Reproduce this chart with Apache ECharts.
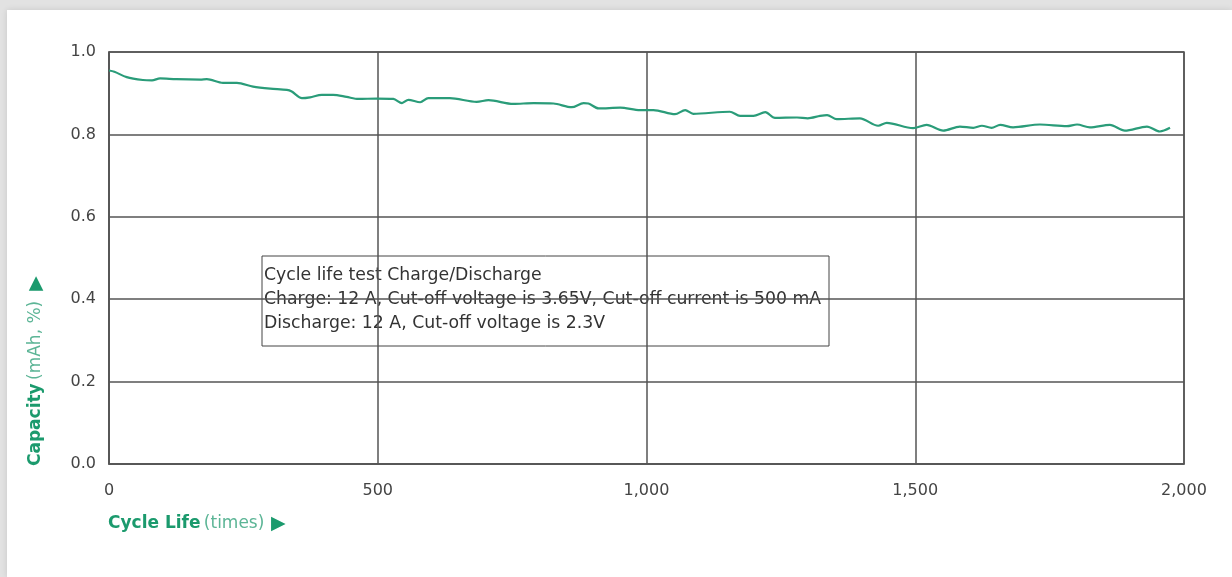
<!DOCTYPE html>
<html>
<head>
<meta charset="utf-8">
<title>Cycle life</title>
<script src="https://cdn.jsdelivr.net/npm/echarts@6.0.0/dist/echarts.min.js"></script>
<style>
  html, body { margin: 0; padding: 0; }
  body { width: 1232px; height: 577px; background: #e2e2e2; position: relative; overflow: hidden; }
  #card { position: absolute; left: 7px; top: 10px; right: 0; bottom: 0; background: #fff; box-shadow: 0 0 6px rgba(0,0,0,0.12); }
  #chart { position: absolute; left: 0; top: 0; width: 1232px; height: 577px; }
</style>
</head>
<body>
<div id="card"></div>
<div id="chart"></div>
<script>
// cycle count (x) and capacity (y)
const cycles = [0, 10, 33, 63, 80, 95, 125, 170, 182, 212, 238, 268, 300, 331, 340, 359, 374, 396, 417, 442,
  464, 498, 529, 545, 557, 579, 594, 634, 684, 706, 752, 790, 827, 861, 883, 892, 911, 951, 988, 1013,
  1053, 1072, 1087, 1155, 1174, 1199, 1221, 1239, 1280, 1300, 1323, 1336, 1354, 1397, 1431, 1447, 1496,
  1521, 1552, 1583, 1608, 1624, 1642, 1658, 1682, 1732, 1782, 1801, 1825, 1862, 1890, 1931, 1955, 1974]
const capacity = [0.955, 0.952, 0.939, 0.932, 0.931, 0.936, 0.934, 0.933, 0.934, 0.925, 0.925, 0.916, 0.911, 0.908, 0.904, 0.888, 0.890, 0.896, 0.896, 0.891,
  0.886, 0.887, 0.886, 0.876, 0.884, 0.878, 0.888, 0.888, 0.879, 0.883, 0.874, 0.876, 0.875, 0.866, 0.876, 0.875, 0.863, 0.865, 0.859, 0.859,
  0.849, 0.859, 0.850, 0.855, 0.845, 0.845, 0.854, 0.840, 0.841, 0.839, 0.845, 0.847, 0.837, 0.839, 0.821, 0.828, 0.815,
  0.823, 0.809, 0.819, 0.816, 0.821, 0.816, 0.823, 0.817, 0.824, 0.820, 0.824, 0.817, 0.823, 0.809, 0.819, 0.807, 0.816]

const xTicks = [0, 500, 1000, 1500, 2000]
const yTicks = [0, 0.2, 0.4, 0.6, 0.8, 1.0]

const noteLines = [
  'Cycle life test Charge/Discharge',
  'Charge: 12 A, Cut-off voltage is 3.65V, Cut-off current is 500 mA',
  'Discharge: 12 A, Cut-off voltage is 2.3V'
]

const green = '#1b9a6d'
const lightGreen = '#5cb596'
const gridColor = '#555'
const font = '"DejaVu Sans", sans-serif'

let myChart = echarts.init(document.getElementById('chart'))

// rich styles shared by both axis titles
const titleRich = {
  b: { fontSize: 17, fontWeight: 'bold', fill: green, fontFamily: font },
  n: { fontSize: 17, fill: lightGreen, fontFamily: font },
  t: { fontSize: 19, fill: green, fontFamily: font }
}

myChart.setOption({
  animation: false,
  grid: {
    left: 109,
    right: 48,
    top: 52,
    bottom: 113,
    show: true,
    borderColor: gridColor,
    borderWidth: 1.5,
    backgroundColor: 'transparent'
  },
  xAxis: {
    type: 'value',
    min: xTicks[0],
    max: xTicks[xTicks.length - 1],
    interval: 500,
    axisLine: { show: true, lineStyle: { color: gridColor, width: 1.5 } },
    axisTick: { show: false },
    splitLine: { show: true, lineStyle: { color: gridColor, width: 1.5 } },
    axisLabel: {
      margin: 19,
      color: '#444',
      fontSize: 16,
      fontFamily: font,
      formatter: v => v.toLocaleString('en-US')
    }
  },
  yAxis: {
    type: 'value',
    min: yTicks[0],
    max: yTicks[yTicks.length - 1],
    interval: 0.2,
    axisLine: { show: true, lineStyle: { color: gridColor, width: 1.5 } },
    axisTick: { show: false },
    splitLine: { show: true, lineStyle: { color: gridColor, width: 1.5 } },
    axisLabel: {
      margin: 13,
      color: '#444',
      fontSize: 16,
      fontFamily: font,
      formatter: v => v.toFixed(1)
    }
  },
  series: [{
    type: 'line',
    data: cycles.map((c, i) => [c, capacity[i]]),
    smooth: 0.3,
    showSymbol: false,
    lineStyle: { color: '#2a9c79', width: 2.2 }
  }],
  graphic: [
    // y axis title, reads bottom to top
    {
      type: 'text',
      x: 36,
      y: 466,
      rotation: Math.PI / 2,
      style: {
        text: '{b|Capacity} {n|(mAh, %)}   {t|▶}',
        textAlign: 'left',
        textVerticalAlign: 'middle',
        rich: titleRich
      }
    },
    // x axis title
    {
      type: 'text',
      x: 108,
      y: 524,
      style: {
        text: '{b|Cycle Life} {n|(times)}  {t|▶}',
        textAlign: 'left',
        textVerticalAlign: 'middle',
        rich: titleRich
      }
    },
    // test conditions box
    {
      type: 'group',
      x: 262,
      y: 256,
      children: [
        {
          type: 'rect',
          shape: { x: 0, y: 0, width: 567, height: 90 },
          style: { fill: '#fff', stroke: '#444', lineWidth: 1 }
        },
        {
          type: 'text',
          x: 2,
          y: 8,
          style: {
            text: noteLines.join('\n'),
            fill: '#333',
            fontSize: 17.3,
            lineHeight: 24,
            fontFamily: font
          }
        }
      ]
    }
  ]
})
</script>
</body>
</html>
